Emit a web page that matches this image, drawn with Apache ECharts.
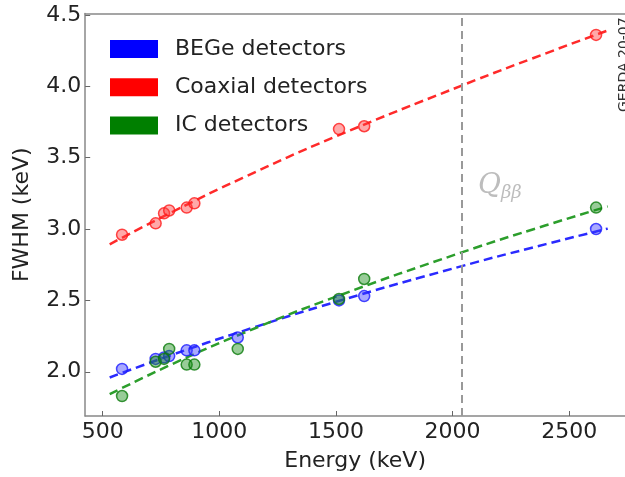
<!DOCTYPE html>
<html>
<head>
<meta charset="utf-8">
<script src="https://cdn.jsdelivr.net/npm/echarts@6/dist/echarts.min.js"></script>
<style>
  html, body { margin: 0; padding: 0; background: #fff; }
  #chart { width: 625px; height: 477px; }
</style>
</head>
<body>
<div id="chart"></div>
<script>
// measured peaks (keV) and resolution (keV)
let begeEnergy = [583, 727, 763, 785, 860, 893, 1079, 1513, 1621, 2615];
let begeFwhm = [2.02, 2.09, 2.10, 2.11, 2.15, 2.15, 2.24, 2.50, 2.53, 3.00];
let coaxEnergy = [583, 727, 763, 785, 860, 893, 1513, 1621, 2615];
let coaxFwhm = [2.96, 3.04, 3.11, 3.13, 3.15, 3.18, 3.70, 3.72, 4.36];
let icEnergy = [583, 727, 763, 785, 860, 893, 1079, 1513, 1621, 2615];
let icFwhm = [1.83, 2.07, 2.09, 2.16, 2.05, 2.05, 2.16, 2.51, 2.65, 3.15];

// fit curves
let fitEnergy = [530, 800, 1100, 1500, 2039, 2400, 2665];
let begeFit = [1.96, 2.12, 2.285, 2.49, 2.74, 2.894, 3.003];
let coaxFit = [2.893, 3.121, 3.358, 3.649, 4.005, 4.231, 4.391];
let icFit = [1.843, 2.055, 2.269, 2.526, 2.836, 3.026, 3.158];

let qbb = 2039;
let xTicks = [500, 1000, 1500, 2000, 2500];
let yTicks = [2.0, 2.5, 3.0, 3.5, 4.0, 4.5];

let font = 'DejaVu Sans';
let axisColor = '#888';

function pairs(xs, ys) {
    return xs.map(function (x, i) { return [x, ys[i]]; });
}

function points(name, xs, ys, color, fill) {
    return {
        name: name,
        type: 'scatter',
        data: pairs(xs, ys),
        symbol: 'circle',
        symbolSize: 11,
        itemStyle: {
            color: fill,
            borderColor: color,
            borderWidth: 1.5,
        },
        z: 3,
    };
}

function fit(name, ys, color) {
    return {
        name: name,
        type: 'line',
        data: pairs(fitEnergy, ys),
        smooth: true,
        showSymbol: false,
        lineStyle: { color: color, width: 2.5, type: [9, 5] },
        z: 2,
    };
}

function legendItem(name, color) {
    return { name: name, itemStyle: { color: color, opacity: 1, borderWidth: 0 } };
}

let chart = echarts.init(document.getElementById('chart'));
chart.setOption({
    animation: false,
    textStyle: { fontFamily: font },
    grid: {
        left: 85.2,
        top: 13.5,
        right: 0,
        bottom: 55.4,
    },
    legend: {
        left: 105,
        top: 33,
        orient: 'vertical',
        icon: 'rect',
        itemWidth: 48,
        itemHeight: 18,
        itemGap: 16.3,
        textStyle: { fontSize: 22, color: '#222', padding: [0, 0, 0, 12] },
        data: [
            legendItem('BEGe detectors', '#0000ff'),
            legendItem('Coaxial detectors', '#ff0000'),
            legendItem('IC detectors', '#007f00'),
        ],
    },
    xAxis: [
        {
            type: 'value',
            min: 425,
            max: 2739,
            name: 'Energy (keV)',
            nameLocation: 'middle',
            nameGap: 34,
            nameTextStyle: { fontSize: 22, color: '#222' },
            axisLine: { show: true, onZero: false, lineStyle: { color: axisColor, width: 1.5 } },
            axisTick: { inside: true, length: 5, lineStyle: { color: '#666' }, customValues: xTicks },
            axisLabel: {
                fontSize: 22, color: '#222', margin: 5, customValues: xTicks,
                formatter: function (v) { return String(v); },
            },
            splitLine: { show: false },
        },
        {
            type: 'value',
            position: 'top',
            min: 425,
            max: 2739,
            axisLine: { show: true, onZero: false, lineStyle: { color: axisColor, width: 1.5 } },
            axisTick: { show: false },
            axisLabel: { show: false },
            splitLine: { show: false },
        },
    ],
    yAxis: {
        type: 'value',
        min: 1.69,
        max: 4.51,
        name: 'FWHM (keV)',
        nameLocation: 'middle',
        nameGap: 52,
        nameTextStyle: { fontSize: 22, color: '#222' },
        axisLine: { show: true, onZero: false, lineStyle: { color: axisColor, width: 1.5 } },
        axisTick: { inside: true, length: 5, lineStyle: { color: '#666' }, customValues: yTicks },
        axisLabel: {
            fontSize: 22, color: '#222', margin: 4, customValues: yTicks,
            formatter: function (v) { return v.toFixed(1); },
        },
        splitLine: { show: false },
    },
    series: [
        fit('BEGe fit', begeFit, '#2a2aff'),
        fit('Coaxial fit', coaxFit, '#ff2a2a'),
        fit('IC fit', icFit, '#2c9e2c'),
        Object.assign(points('BEGe detectors', begeEnergy, begeFwhm, '#1a1aff', 'rgba(60,60,255,0.55)'), {
            markLine: {
                silent: true,
                symbol: 'none',
                label: { show: false },
                lineStyle: { color: '#999', width: 2, type: [8, 5] },
                data: [{ xAxis: qbb }],
            },
        }),
        points('Coaxial detectors', coaxEnergy, coaxFwhm, '#ff1a1a', 'rgba(255,60,60,0.55)'),
        points('IC detectors', icEnergy, icFwhm, '#0a7a0a', 'rgba(20,140,20,0.55)'),
    ],
    graphic: [
        {
            type: 'text',
            x: 478,
            y: 170,
            style: {
                text: '{q|Q}{s|ββ}',
                fill: '#bdbdbd',
                rich: {
                    q: { fontFamily: 'DejaVu Serif', fontStyle: 'italic', fontSize: 28, fill: '#bdbdbd' },
                    s: { fontFamily: 'DejaVu Serif', fontStyle: 'italic', fontSize: 18, fill: '#bdbdbd', padding: [14, 0, 0, 0] },
                },
            },
        },
        {
            type: 'text',
            x: 617,
            y: 112,
            rotation: Math.PI / 2,
            style: {
                text: 'GERDA 20-07',
                fontFamily: font,
                fontSize: 14,
                fill: '#333',
                align: 'left',
                verticalAlign: 'top',
            },
        },
    ],
});
</script>
</body>
</html>
